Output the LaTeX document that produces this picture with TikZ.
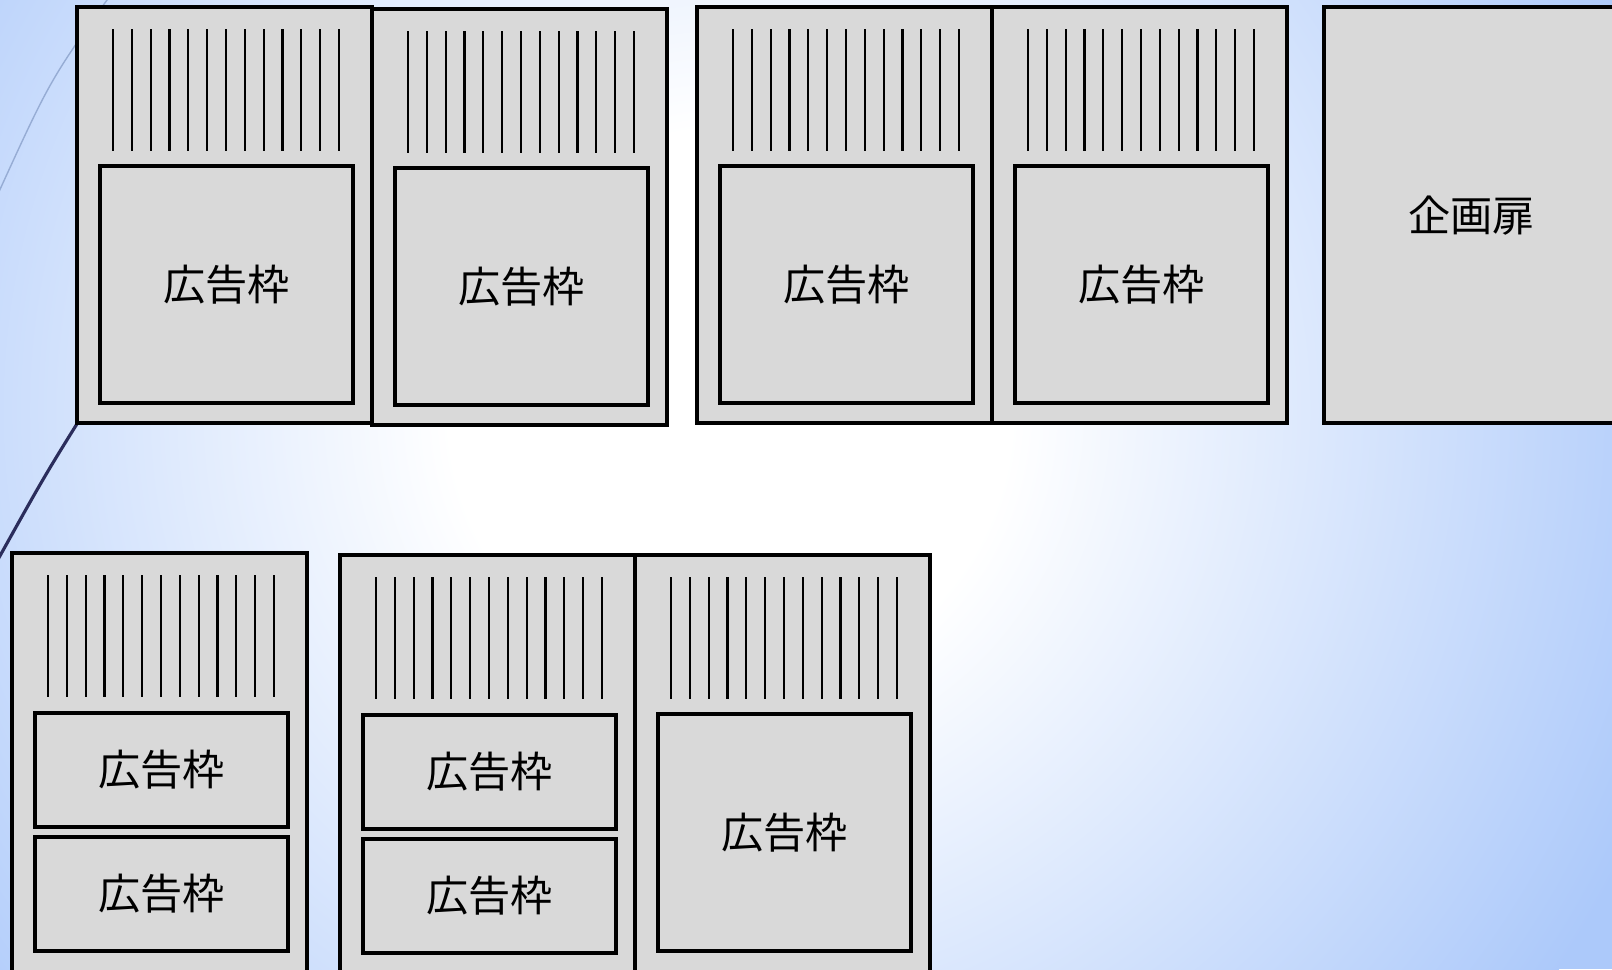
\documentclass[tikz,border=0pt]{standalone}
\usepackage{fontspec}
\newfontfamily\jpfont{Noto Sans CJK JP}
\usetikzlibrary{positioning,calc}
\definecolor{bgblue}{RGB}{172,201,250}
\definecolor{panel}{RGB}{217,217,217}
\definecolor{arcline}{RGB}{43,45,92}
\definecolor{thinarc}{RGB}{150,172,212}
\pgfdeclareradialshading{slideglow}{\pgfpoint{0bp}{0bp}}{color(0bp)=(white); color(7bp)=(white); color(25bp)=(bgblue); color(50bp)=(bgblue)}

\begin{document}
\begin{tikzpicture}[
  % pixel grid, y pointing down
  x=0.01cm, y=-0.01cm,
  every node/.style={font=\jpfont\fontsize{12pt}{14pt}\selectfont},
  cabinet/.style={
    draw=black,
    fill=panel,
    line width=1pt,
    minimum width=2.95cm,
    minimum height=4.16cm,
    inner sep=0pt,
    outer sep=0pt,
    anchor=north west
  },
  tallcabinet/.style={cabinet, minimum height=4.3cm},
  slot/.style={
    draw=black,
    fill=panel,
    line width=1pt,
    minimum width=2.53cm,
    minimum height=2.37cm,
    inner sep=0pt,
    outer sep=0pt,
    anchor=north west
  },
  halfslot/.style={slot, minimum height=1.14cm},
  hatch/.style={line width=0.6pt}
]

% Slide background
\useasboundingbox (0,0) rectangle (1612,969);
\clip (0,0) rectangle (1612,969);
\fill[bgblue] (0,0) rectangle (1612,969);
\shade[shading=slideglow] (730,410) circle[radius=1000];

% Theme arcs
\draw[thinarc, line width=0.4pt] (112,-7) .. controls (50,80) .. (-3,196);
\draw[arcline, line width=0.9pt] (90,403) .. controls (45,475) .. (-4,563);

% Upper row
\node[cabinet] (cabA) at (77,7) {};
\node[slot] (slotA) at ($(cabA.north west)+(23,159)$) {広告枠};

\node[cabinet] (cabB) at (372,9) {};
\node[slot] (slotB) at ($(cabB.north west)+(23,159)$) {広告枠};

\node[cabinet] (cabC) at (697,7) {};
\node[slot] (slotC) at ($(cabC.north west)+(23,159)$) {広告枠};

\node[cabinet] (cabD) at (992,7) {};
\node[slot] (slotD) at ($(cabD.north west)+(23,159)$) {広告枠};

% Planning door
\node[cabinet] (door) at (1324,7) {企画扉};

% Lower row
\node[tallcabinet] (cabF) at (12,553) {};
\node[halfslot] (slotFa) at ($(cabF.north west)+(23,160)$) {広告枠};
\node[halfslot] (slotFb) at ($(cabF.north west)+(23,284)$) {広告枠};

\node[tallcabinet] (cabG) at (340,555) {};
\node[halfslot] (slotGa) at ($(cabG.north west)+(23,160)$) {広告枠};
\node[halfslot] (slotGb) at ($(cabG.north west)+(23,284)$) {広告枠};

\node[tallcabinet] (cabH) at (635,555) {};
\node[slot] (slotH) at ($(cabH.north west)+(23,159)$) {広告枠};

% Louvres
\foreach \c in {cabA,cabB,cabC,cabD,cabF,cabG,cabH}
  \foreach \i in {0,...,12}
    \draw[hatch] ($(\c.north west)+(36+18.83*\i,22)$) -- ++(0,122);

\end{tikzpicture}
\end{document}
